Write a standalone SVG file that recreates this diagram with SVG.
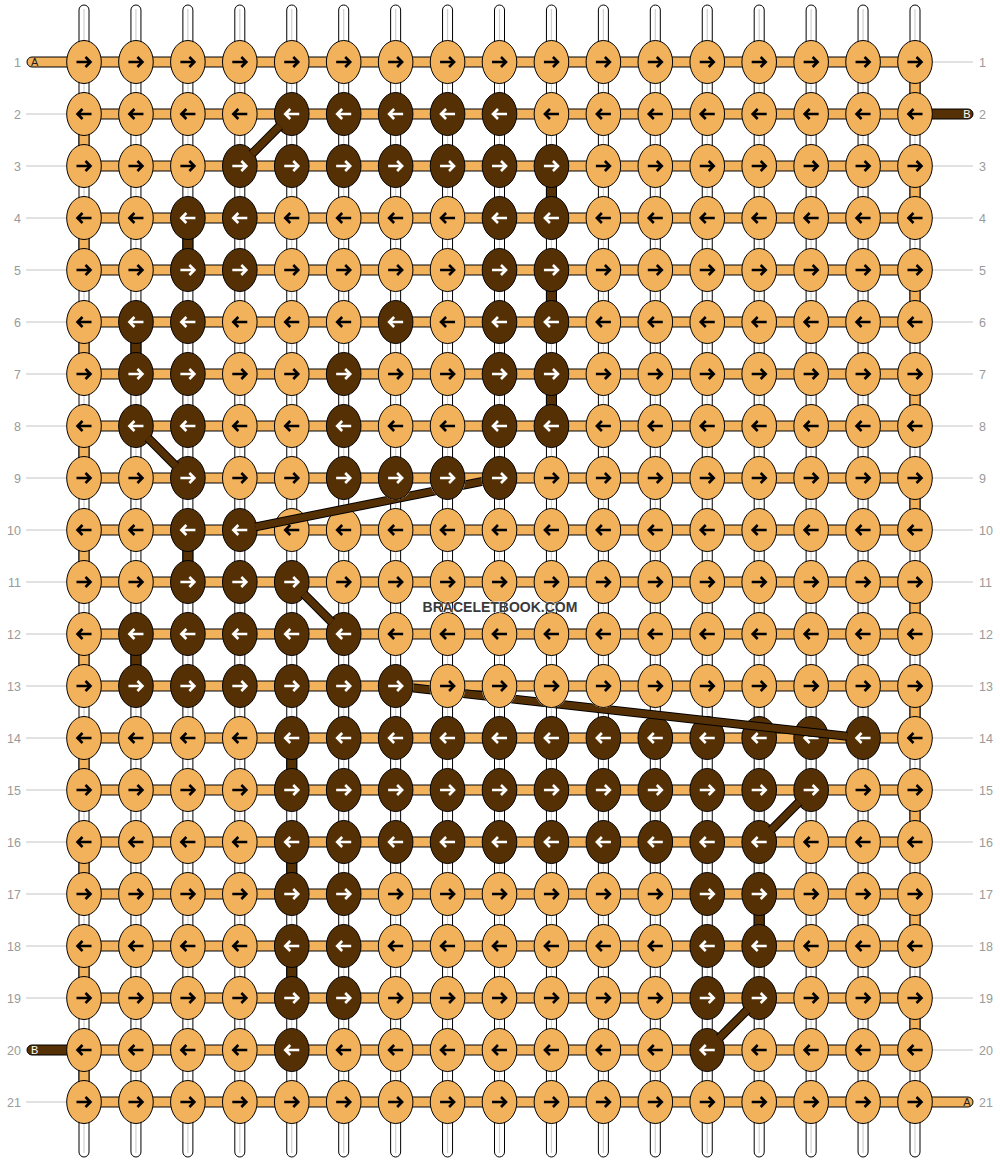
<svg xmlns="http://www.w3.org/2000/svg" xmlns:xlink="http://www.w3.org/1999/xlink" width="1000" height="1164" viewBox="0 0 1000 1164">
<style>
.w{fill:#fff;stroke:#000;stroke-width:1}
.c{stroke:#d0d0d0;stroke-width:1.2}
.h{fill:#F2B15B;stroke:#000;stroke-width:1}
.bv{fill:#563005;stroke:#000;stroke-width:1}
.gl{stroke:#c4c4c4;stroke-width:1}
.lb{font-family:"Liberation Sans",Arial,sans-serif;font-size:12.5px;fill:#9a9a9a}
.st{font-family:"Liberation Sans",Arial,sans-serif;font-size:11px}
.cb{stroke:#000;stroke-width:9;fill:none}
.cf{stroke:#563005;stroke-width:7;fill:none}
.wm{font-family:"Liberation Sans",Arial,sans-serif;font-size:14px;font-weight:bold;fill:#3a3a3a;stroke:#fff;stroke-width:1.5;stroke-opacity:0.6;paint-order:stroke}
</style>
<defs>
<path id="ar" d="M-7.5,0H6.5M1.5,-5L6.5,0L1.5,5" fill="none" stroke-width="2.6"/>
<path id="al" d="M7.5,0H-6.5M-1.5,-5L-6.5,0L-1.5,5" fill="none" stroke-width="2.6"/>
<g id="or"><ellipse rx="17.3" ry="21.5" fill="#F2B15B" stroke="#000"/><use href="#ar" stroke="#000"/></g>
<g id="ol"><ellipse rx="17.3" ry="21.5" fill="#F2B15B" stroke="#000"/><use href="#al" stroke="#000"/></g>
<g id="dr"><ellipse rx="17.3" ry="21.5" fill="#563005" stroke="#000"/><use href="#ar" stroke="#fff"/></g>
<g id="dl"><ellipse rx="17.3" ry="21.5" fill="#563005" stroke="#000"/><use href="#al" stroke="#fff"/></g>
<mask id="m9" maskUnits="userSpaceOnUse" x="0" y="0" width="1000" height="1164"><rect width="1000" height="1164" fill="#fff"/><ellipse cx="343.69" cy="478" rx="18" ry="22" fill="#000"/><ellipse cx="395.63" cy="478" rx="18" ry="22" fill="#000"/><ellipse cx="447.56" cy="478" rx="18" ry="22" fill="#000"/><ellipse cx="499.5" cy="478" rx="18" ry="22" fill="#000"/></mask>
<mask id="m13" maskUnits="userSpaceOnUse" x="0" y="0" width="1000" height="1164"><rect width="1000" height="1164" fill="#fff"/><ellipse cx="395.63" cy="686" rx="18" ry="22" fill="#000"/><ellipse cx="447.56" cy="686" rx="18" ry="22" fill="#000"/><ellipse cx="499.5" cy="686" rx="18" ry="22" fill="#000"/><ellipse cx="551.44" cy="686" rx="18" ry="22" fill="#000"/><ellipse cx="603.38" cy="686" rx="18" ry="22" fill="#000"/></mask>
</defs>
<rect width="1000" height="1164" fill="#fff"/>
<g id="labels">
<g class="gl">
<line x1="26" y1="114" x2="66" y2="114"/><line x1="26" y1="166" x2="66" y2="166"/><line x1="26" y1="218" x2="66" y2="218"/><line x1="26" y1="270" x2="66" y2="270"/><line x1="26" y1="322" x2="66" y2="322"/><line x1="26" y1="374" x2="66" y2="374"/><line x1="26" y1="426" x2="66" y2="426"/><line x1="26" y1="478" x2="66" y2="478"/><line x1="26" y1="530" x2="66" y2="530"/><line x1="26" y1="582" x2="66" y2="582"/><line x1="26" y1="634" x2="66" y2="634"/><line x1="26" y1="686" x2="66" y2="686"/><line x1="26" y1="738" x2="66" y2="738"/><line x1="26" y1="790" x2="66" y2="790"/><line x1="26" y1="842" x2="66" y2="842"/><line x1="26" y1="894" x2="66" y2="894"/><line x1="26" y1="946" x2="66" y2="946"/><line x1="26" y1="998" x2="66" y2="998"/><line x1="26" y1="1102" x2="66" y2="1102"/>
<line x1="933" y1="62" x2="973" y2="62"/><line x1="933" y1="166" x2="973" y2="166"/><line x1="933" y1="218" x2="973" y2="218"/><line x1="933" y1="270" x2="973" y2="270"/><line x1="933" y1="322" x2="973" y2="322"/><line x1="933" y1="374" x2="973" y2="374"/><line x1="933" y1="426" x2="973" y2="426"/><line x1="933" y1="478" x2="973" y2="478"/><line x1="933" y1="530" x2="973" y2="530"/><line x1="933" y1="582" x2="973" y2="582"/><line x1="933" y1="634" x2="973" y2="634"/><line x1="933" y1="686" x2="973" y2="686"/><line x1="933" y1="738" x2="973" y2="738"/><line x1="933" y1="790" x2="973" y2="790"/><line x1="933" y1="842" x2="973" y2="842"/><line x1="933" y1="894" x2="973" y2="894"/><line x1="933" y1="946" x2="973" y2="946"/><line x1="933" y1="998" x2="973" y2="998"/><line x1="933" y1="1050" x2="973" y2="1050"/>
</g>
<g class="lb" text-anchor="end">
<text x="21" y="66.5">1</text><text x="21" y="118.5">2</text><text x="21" y="170.5">3</text><text x="21" y="222.5">4</text><text x="21" y="274.5">5</text><text x="21" y="326.5">6</text><text x="21" y="378.5">7</text><text x="21" y="430.5">8</text><text x="21" y="482.5">9</text><text x="21" y="534.5">10</text><text x="21" y="586.5">11</text><text x="21" y="638.5">12</text><text x="21" y="690.5">13</text><text x="21" y="742.5">14</text><text x="21" y="794.5">15</text><text x="21" y="846.5">16</text><text x="21" y="898.5">17</text><text x="21" y="950.5">18</text><text x="21" y="1002.5">19</text><text x="21" y="1054.5">20</text><text x="21" y="1106.5">21</text>
</g>
<g class="lb">
<text x="979" y="66.5">1</text><text x="979" y="118.5">2</text><text x="979" y="170.5">3</text><text x="979" y="222.5">4</text><text x="979" y="274.5">5</text><text x="979" y="326.5">6</text><text x="979" y="378.5">7</text><text x="979" y="430.5">8</text><text x="979" y="482.5">9</text><text x="979" y="534.5">10</text><text x="979" y="586.5">11</text><text x="979" y="638.5">12</text><text x="979" y="690.5">13</text><text x="979" y="742.5">14</text><text x="979" y="794.5">15</text><text x="979" y="846.5">16</text><text x="979" y="898.5">17</text><text x="979" y="950.5">18</text><text x="979" y="1002.5">19</text><text x="979" y="1054.5">20</text><text x="979" y="1106.5">21</text>
</g>
</g>
<g id="strings">
<g id="warp">
<rect class="w" x="79" y="5" width="10" height="1152" rx="5"/><rect class="w" x="130.94" y="5" width="10" height="1152" rx="5"/><rect class="w" x="182.88" y="5" width="10" height="1152" rx="5"/><rect class="w" x="234.81" y="5" width="10" height="1152" rx="5"/><rect class="w" x="286.75" y="5" width="10" height="1152" rx="5"/><rect class="w" x="338.69" y="5" width="10" height="1152" rx="5"/><rect class="w" x="390.63" y="5" width="10" height="1152" rx="5"/><rect class="w" x="442.56" y="5" width="10" height="1152" rx="5"/><rect class="w" x="494.5" y="5" width="10" height="1152" rx="5"/><rect class="w" x="546.44" y="5" width="10" height="1152" rx="5"/><rect class="w" x="598.38" y="5" width="10" height="1152" rx="5"/><rect class="w" x="650.31" y="5" width="10" height="1152" rx="5"/><rect class="w" x="702.25" y="5" width="10" height="1152" rx="5"/><rect class="w" x="754.19" y="5" width="10" height="1152" rx="5"/><rect class="w" x="806.13" y="5" width="10" height="1152" rx="5"/><rect class="w" x="858.06" y="5" width="10" height="1152" rx="5"/><rect class="w" x="910" y="5" width="10" height="1152" rx="5"/>
<g class="c"><line x1="84" y1="9" x2="84" y2="1153"/><line x1="135.94" y1="9" x2="135.94" y2="1153"/><line x1="187.88" y1="9" x2="187.88" y2="1153"/><line x1="239.81" y1="9" x2="239.81" y2="1153"/><line x1="291.75" y1="9" x2="291.75" y2="1153"/><line x1="343.69" y1="9" x2="343.69" y2="1153"/><line x1="395.63" y1="9" x2="395.63" y2="1153"/><line x1="447.56" y1="9" x2="447.56" y2="1153"/><line x1="499.5" y1="9" x2="499.5" y2="1153"/><line x1="551.44" y1="9" x2="551.44" y2="1153"/><line x1="603.38" y1="9" x2="603.38" y2="1153"/><line x1="655.31" y1="9" x2="655.31" y2="1153"/><line x1="707.25" y1="9" x2="707.25" y2="1153"/><line x1="759.19" y1="9" x2="759.19" y2="1153"/><line x1="811.13" y1="9" x2="811.13" y2="1153"/><line x1="863.06" y1="9" x2="863.06" y2="1153"/><line x1="915" y1="9" x2="915" y2="1153"/></g>
</g>
<g id="weft">
<rect class="h" x="84" y="57" width="831" height="10"/><rect class="h" x="84" y="109" width="831" height="10"/><rect class="h" x="84" y="161" width="831" height="10"/><rect class="h" x="84" y="213" width="831" height="10"/><rect class="h" x="84" y="265" width="831" height="10"/><rect class="h" x="84" y="317" width="831" height="10"/><rect class="h" x="84" y="369" width="831" height="10"/><rect class="h" x="84" y="421" width="831" height="10"/><rect class="h" x="84" y="473" width="831" height="10"/><rect class="h" x="84" y="525" width="831" height="10"/><rect class="h" x="84" y="577" width="831" height="10"/><rect class="h" x="84" y="629" width="831" height="10"/><rect class="h" x="84" y="681" width="831" height="10"/><rect class="h" x="84" y="733" width="831" height="10"/><rect class="h" x="84" y="785" width="831" height="10"/><rect class="h" x="84" y="837" width="831" height="10"/><rect class="h" x="84" y="889" width="831" height="10"/><rect class="h" x="84" y="941" width="831" height="10"/><rect class="h" x="84" y="993" width="831" height="10"/><rect class="h" x="84" y="1045" width="831" height="10"/><rect class="h" x="84" y="1097" width="831" height="10"/>
<rect class="h" x="910" y="77" width="10" height="22"/><rect class="h" x="910" y="181" width="10" height="22"/><rect class="h" x="910" y="285" width="10" height="22"/><rect class="h" x="910" y="389" width="10" height="22"/><rect class="h" x="910" y="493" width="10" height="22"/><rect class="h" x="910" y="597" width="10" height="22"/><rect class="h" x="910" y="701" width="10" height="22"/><rect class="h" x="910" y="805" width="10" height="22"/><rect class="h" x="910" y="909" width="10" height="22"/><rect class="h" x="910" y="1013" width="10" height="22"/>
<rect class="h" x="79" y="129" width="10" height="22"/><rect class="h" x="79" y="233" width="10" height="22"/><rect class="h" x="79" y="337" width="10" height="22"/><rect class="h" x="79" y="441" width="10" height="22"/><rect class="h" x="79" y="545" width="10" height="22"/><rect class="h" x="79" y="649" width="10" height="22"/><rect class="h" x="79" y="753" width="10" height="22"/><rect class="h" x="79" y="857" width="10" height="22"/><rect class="h" x="79" y="961" width="10" height="22"/><rect class="h" x="79" y="1065" width="10" height="22"/>
</g>
<g id="ends">
<path class="h" d="M75,57H32a5,5 0 0 0 0,10H75Z"/><text class="st" x="31" y="65.5" fill="#222">A</text>
<path class="bv" d="M75,1045H32a5,5 0 0 0 0,10H75Z"/><text class="st" x="31" y="1053.5" fill="#fff">B</text>
<path class="bv" d="M925,109H968a5,5 0 0 1 0,10H925Z"/><text class="st" x="970.5" y="117.5" fill="#fff" text-anchor="end">B</text>
<path class="h" d="M925,1097H968a5,5 0 0 1 0,10H925Z"/><text class="st" x="970.5" y="1105.5" fill="#222" text-anchor="end">A</text>
</g>
<g id="b-vertical">
<rect class="bv" x="546.44" y="181" width="10" height="22"/><rect class="bv" x="182.88" y="233" width="10" height="22"/><rect class="bv" x="546.44" y="285" width="10" height="22"/><rect class="bv" x="130.94" y="337" width="10" height="22"/><rect class="bv" x="546.44" y="389" width="10" height="22"/><rect class="bv" x="182.88" y="545" width="10" height="22"/><rect class="bv" x="130.94" y="649" width="10" height="22"/><rect class="bv" x="286.75" y="753" width="10" height="22"/><rect class="bv" x="286.75" y="857" width="10" height="22"/><rect class="bv" x="754.19" y="909" width="10" height="22"/><rect class="bv" x="286.75" y="961" width="10" height="22"/>
</g>
</g>
<g id="knots">
<g id="k1-1"><use href="#or" x="84" y="62"/></g><g id="k1-2"><use href="#or" x="135.94" y="62"/></g><g id="k1-3"><use href="#or" x="187.88" y="62"/></g><g id="k1-4"><use href="#or" x="239.81" y="62"/></g><g id="k1-5"><use href="#or" x="291.75" y="62"/></g><g id="k1-6"><use href="#or" x="343.69" y="62"/></g><g id="k1-7"><use href="#or" x="395.63" y="62"/></g><g id="k1-8"><use href="#or" x="447.56" y="62"/></g><g id="k1-9"><use href="#or" x="499.5" y="62"/></g><g id="k1-10"><use href="#or" x="551.44" y="62"/></g><g id="k1-11"><use href="#or" x="603.38" y="62"/></g><g id="k1-12"><use href="#or" x="655.31" y="62"/></g><g id="k1-13"><use href="#or" x="707.25" y="62"/></g><g id="k1-14"><use href="#or" x="759.19" y="62"/></g><g id="k1-15"><use href="#or" x="811.13" y="62"/></g><g id="k1-16"><use href="#or" x="863.06" y="62"/></g><g id="k1-17"><use href="#or" x="915" y="62"/></g>
<g id="k2-1"><use href="#ol" x="84" y="114"/></g><g id="k2-2"><use href="#ol" x="135.94" y="114"/></g><g id="k2-3"><use href="#ol" x="187.88" y="114"/></g><g id="k2-4"><use href="#ol" x="239.81" y="114"/></g><g id="k2-5"><use href="#dl" x="291.75" y="114"/></g><g id="k2-6"><use href="#dl" x="343.69" y="114"/></g><g id="k2-7"><use href="#dl" x="395.63" y="114"/></g><g id="k2-8"><use href="#dl" x="447.56" y="114"/></g><g id="k2-9"><use href="#dl" x="499.5" y="114"/></g><g id="k2-10"><use href="#ol" x="551.44" y="114"/></g><g id="k2-11"><use href="#ol" x="603.38" y="114"/></g><g id="k2-12"><use href="#ol" x="655.31" y="114"/></g><g id="k2-13"><use href="#ol" x="707.25" y="114"/></g><g id="k2-14"><use href="#ol" x="759.19" y="114"/></g><g id="k2-15"><use href="#ol" x="811.13" y="114"/></g><g id="k2-16"><use href="#ol" x="863.06" y="114"/></g><g id="k2-17"><use href="#ol" x="915" y="114"/></g>
<g id="k3-1"><use href="#or" x="84" y="166"/></g><g id="k3-2"><use href="#or" x="135.94" y="166"/></g><g id="k3-3"><use href="#or" x="187.88" y="166"/></g><g id="k3-4"><use href="#dr" x="239.81" y="166"/></g><g id="k3-5"><use href="#dr" x="291.75" y="166"/></g><g id="k3-6"><use href="#dr" x="343.69" y="166"/></g><g id="k3-7"><use href="#dr" x="395.63" y="166"/></g><g id="k3-8"><use href="#dr" x="447.56" y="166"/></g><g id="k3-9"><use href="#dr" x="499.5" y="166"/></g><g id="k3-10"><use href="#dr" x="551.44" y="166"/></g><g id="k3-11"><use href="#or" x="603.38" y="166"/></g><g id="k3-12"><use href="#or" x="655.31" y="166"/></g><g id="k3-13"><use href="#or" x="707.25" y="166"/></g><g id="k3-14"><use href="#or" x="759.19" y="166"/></g><g id="k3-15"><use href="#or" x="811.13" y="166"/></g><g id="k3-16"><use href="#or" x="863.06" y="166"/></g><g id="k3-17"><use href="#or" x="915" y="166"/></g>
<g id="k4-1"><use href="#ol" x="84" y="218"/></g><g id="k4-2"><use href="#ol" x="135.94" y="218"/></g><g id="k4-3"><use href="#dl" x="187.88" y="218"/></g><g id="k4-4"><use href="#dl" x="239.81" y="218"/></g><g id="k4-5"><use href="#ol" x="291.75" y="218"/></g><g id="k4-6"><use href="#ol" x="343.69" y="218"/></g><g id="k4-7"><use href="#ol" x="395.63" y="218"/></g><g id="k4-8"><use href="#ol" x="447.56" y="218"/></g><g id="k4-9"><use href="#dl" x="499.5" y="218"/></g><g id="k4-10"><use href="#dl" x="551.44" y="218"/></g><g id="k4-11"><use href="#ol" x="603.38" y="218"/></g><g id="k4-12"><use href="#ol" x="655.31" y="218"/></g><g id="k4-13"><use href="#ol" x="707.25" y="218"/></g><g id="k4-14"><use href="#ol" x="759.19" y="218"/></g><g id="k4-15"><use href="#ol" x="811.13" y="218"/></g><g id="k4-16"><use href="#ol" x="863.06" y="218"/></g><g id="k4-17"><use href="#ol" x="915" y="218"/></g>
<g id="k5-1"><use href="#or" x="84" y="270"/></g><g id="k5-2"><use href="#or" x="135.94" y="270"/></g><g id="k5-3"><use href="#dr" x="187.88" y="270"/></g><g id="k5-4"><use href="#dr" x="239.81" y="270"/></g><g id="k5-5"><use href="#or" x="291.75" y="270"/></g><g id="k5-6"><use href="#or" x="343.69" y="270"/></g><g id="k5-7"><use href="#or" x="395.63" y="270"/></g><g id="k5-8"><use href="#or" x="447.56" y="270"/></g><g id="k5-9"><use href="#dr" x="499.5" y="270"/></g><g id="k5-10"><use href="#dr" x="551.44" y="270"/></g><g id="k5-11"><use href="#or" x="603.38" y="270"/></g><g id="k5-12"><use href="#or" x="655.31" y="270"/></g><g id="k5-13"><use href="#or" x="707.25" y="270"/></g><g id="k5-14"><use href="#or" x="759.19" y="270"/></g><g id="k5-15"><use href="#or" x="811.13" y="270"/></g><g id="k5-16"><use href="#or" x="863.06" y="270"/></g><g id="k5-17"><use href="#or" x="915" y="270"/></g>
<g id="k6-1"><use href="#ol" x="84" y="322"/></g><g id="k6-2"><use href="#dl" x="135.94" y="322"/></g><g id="k6-3"><use href="#dl" x="187.88" y="322"/></g><g id="k6-4"><use href="#ol" x="239.81" y="322"/></g><g id="k6-5"><use href="#ol" x="291.75" y="322"/></g><g id="k6-6"><use href="#ol" x="343.69" y="322"/></g><g id="k6-7"><use href="#dl" x="395.63" y="322"/></g><g id="k6-8"><use href="#ol" x="447.56" y="322"/></g><g id="k6-9"><use href="#dl" x="499.5" y="322"/></g><g id="k6-10"><use href="#dl" x="551.44" y="322"/></g><g id="k6-11"><use href="#ol" x="603.38" y="322"/></g><g id="k6-12"><use href="#ol" x="655.31" y="322"/></g><g id="k6-13"><use href="#ol" x="707.25" y="322"/></g><g id="k6-14"><use href="#ol" x="759.19" y="322"/></g><g id="k6-15"><use href="#ol" x="811.13" y="322"/></g><g id="k6-16"><use href="#ol" x="863.06" y="322"/></g><g id="k6-17"><use href="#ol" x="915" y="322"/></g>
<g id="k7-1"><use href="#or" x="84" y="374"/></g><g id="k7-2"><use href="#dr" x="135.94" y="374"/></g><g id="k7-3"><use href="#dr" x="187.88" y="374"/></g><g id="k7-4"><use href="#or" x="239.81" y="374"/></g><g id="k7-5"><use href="#or" x="291.75" y="374"/></g><g id="k7-6"><use href="#dr" x="343.69" y="374"/></g><g id="k7-7"><use href="#or" x="395.63" y="374"/></g><g id="k7-8"><use href="#or" x="447.56" y="374"/></g><g id="k7-9"><use href="#dr" x="499.5" y="374"/></g><g id="k7-10"><use href="#dr" x="551.44" y="374"/></g><g id="k7-11"><use href="#or" x="603.38" y="374"/></g><g id="k7-12"><use href="#or" x="655.31" y="374"/></g><g id="k7-13"><use href="#or" x="707.25" y="374"/></g><g id="k7-14"><use href="#or" x="759.19" y="374"/></g><g id="k7-15"><use href="#or" x="811.13" y="374"/></g><g id="k7-16"><use href="#or" x="863.06" y="374"/></g><g id="k7-17"><use href="#or" x="915" y="374"/></g>
<g id="k8-1"><use href="#ol" x="84" y="426"/></g><g id="k8-2"><use href="#dl" x="135.94" y="426"/></g><g id="k8-3"><use href="#dl" x="187.88" y="426"/></g><g id="k8-4"><use href="#ol" x="239.81" y="426"/></g><g id="k8-5"><use href="#ol" x="291.75" y="426"/></g><g id="k8-6"><use href="#dl" x="343.69" y="426"/></g><g id="k8-7"><use href="#ol" x="395.63" y="426"/></g><g id="k8-8"><use href="#ol" x="447.56" y="426"/></g><g id="k8-9"><use href="#dl" x="499.5" y="426"/></g><g id="k8-10"><use href="#dl" x="551.44" y="426"/></g><g id="k8-11"><use href="#ol" x="603.38" y="426"/></g><g id="k8-12"><use href="#ol" x="655.31" y="426"/></g><g id="k8-13"><use href="#ol" x="707.25" y="426"/></g><g id="k8-14"><use href="#ol" x="759.19" y="426"/></g><g id="k8-15"><use href="#ol" x="811.13" y="426"/></g><g id="k8-16"><use href="#ol" x="863.06" y="426"/></g><g id="k8-17"><use href="#ol" x="915" y="426"/></g>
<g id="k9-1"><use href="#or" x="84" y="478"/></g><g id="k9-2"><use href="#or" x="135.94" y="478"/></g><g id="k9-3"><use href="#dr" x="187.88" y="478"/></g><g id="k9-4"><use href="#or" x="239.81" y="478"/></g><g id="k9-5"><use href="#or" x="291.75" y="478"/></g><g id="k9-6"><use href="#dr" x="343.69" y="478"/></g><g id="k9-7"><use href="#dr" x="395.63" y="478"/></g><g id="k9-8"><use href="#dr" x="447.56" y="478"/></g><g id="k9-9"><use href="#dr" x="499.5" y="478"/></g><g id="k9-10"><use href="#or" x="551.44" y="478"/></g><g id="k9-11"><use href="#or" x="603.38" y="478"/></g><g id="k9-12"><use href="#or" x="655.31" y="478"/></g><g id="k9-13"><use href="#or" x="707.25" y="478"/></g><g id="k9-14"><use href="#or" x="759.19" y="478"/></g><g id="k9-15"><use href="#or" x="811.13" y="478"/></g><g id="k9-16"><use href="#or" x="863.06" y="478"/></g><g id="k9-17"><use href="#or" x="915" y="478"/></g>
<g id="k10-1"><use href="#ol" x="84" y="530"/></g><g id="k10-2"><use href="#ol" x="135.94" y="530"/></g><g id="k10-3"><use href="#dl" x="187.88" y="530"/></g><g id="k10-4"><use href="#dl" x="239.81" y="530"/></g><g id="k10-5"><use href="#ol" x="291.75" y="530"/></g><g id="k10-6"><use href="#ol" x="343.69" y="530"/></g><g id="k10-7"><use href="#ol" x="395.63" y="530"/></g><g id="k10-8"><use href="#ol" x="447.56" y="530"/></g><g id="k10-9"><use href="#ol" x="499.5" y="530"/></g><g id="k10-10"><use href="#ol" x="551.44" y="530"/></g><g id="k10-11"><use href="#ol" x="603.38" y="530"/></g><g id="k10-12"><use href="#ol" x="655.31" y="530"/></g><g id="k10-13"><use href="#ol" x="707.25" y="530"/></g><g id="k10-14"><use href="#ol" x="759.19" y="530"/></g><g id="k10-15"><use href="#ol" x="811.13" y="530"/></g><g id="k10-16"><use href="#ol" x="863.06" y="530"/></g><g id="k10-17"><use href="#ol" x="915" y="530"/></g>
<g id="k11-1"><use href="#or" x="84" y="582"/></g><g id="k11-2"><use href="#or" x="135.94" y="582"/></g><g id="k11-3"><use href="#dr" x="187.88" y="582"/></g><g id="k11-4"><use href="#dr" x="239.81" y="582"/></g><g id="k11-5"><use href="#dr" x="291.75" y="582"/></g><g id="k11-6"><use href="#or" x="343.69" y="582"/></g><g id="k11-7"><use href="#or" x="395.63" y="582"/></g><g id="k11-8"><use href="#or" x="447.56" y="582"/></g><g id="k11-9"><use href="#or" x="499.5" y="582"/></g><g id="k11-10"><use href="#or" x="551.44" y="582"/></g><g id="k11-11"><use href="#or" x="603.38" y="582"/></g><g id="k11-12"><use href="#or" x="655.31" y="582"/></g><g id="k11-13"><use href="#or" x="707.25" y="582"/></g><g id="k11-14"><use href="#or" x="759.19" y="582"/></g><g id="k11-15"><use href="#or" x="811.13" y="582"/></g><g id="k11-16"><use href="#or" x="863.06" y="582"/></g><g id="k11-17"><use href="#or" x="915" y="582"/></g>
<g id="k12-1"><use href="#ol" x="84" y="634"/></g><g id="k12-2"><use href="#dl" x="135.94" y="634"/></g><g id="k12-3"><use href="#dl" x="187.88" y="634"/></g><g id="k12-4"><use href="#dl" x="239.81" y="634"/></g><g id="k12-5"><use href="#dl" x="291.75" y="634"/></g><g id="k12-6"><use href="#dl" x="343.69" y="634"/></g><g id="k12-7"><use href="#ol" x="395.63" y="634"/></g><g id="k12-8"><use href="#ol" x="447.56" y="634"/></g><g id="k12-9"><use href="#ol" x="499.5" y="634"/></g><g id="k12-10"><use href="#ol" x="551.44" y="634"/></g><g id="k12-11"><use href="#ol" x="603.38" y="634"/></g><g id="k12-12"><use href="#ol" x="655.31" y="634"/></g><g id="k12-13"><use href="#ol" x="707.25" y="634"/></g><g id="k12-14"><use href="#ol" x="759.19" y="634"/></g><g id="k12-15"><use href="#ol" x="811.13" y="634"/></g><g id="k12-16"><use href="#ol" x="863.06" y="634"/></g><g id="k12-17"><use href="#ol" x="915" y="634"/></g>
<g id="k13-1"><use href="#or" x="84" y="686"/></g><g id="k13-2"><use href="#dr" x="135.94" y="686"/></g><g id="k13-3"><use href="#dr" x="187.88" y="686"/></g><g id="k13-4"><use href="#dr" x="239.81" y="686"/></g><g id="k13-5"><use href="#dr" x="291.75" y="686"/></g><g id="k13-6"><use href="#dr" x="343.69" y="686"/></g><g id="k13-7"><use href="#dr" x="395.63" y="686"/></g><g id="k13-8"><use href="#or" x="447.56" y="686"/></g><g id="k13-9"><use href="#or" x="499.5" y="686"/></g><g id="k13-10"><use href="#or" x="551.44" y="686"/></g><g id="k13-11"><use href="#or" x="603.38" y="686"/></g><g id="k13-12"><use href="#or" x="655.31" y="686"/></g><g id="k13-13"><use href="#or" x="707.25" y="686"/></g><g id="k13-14"><use href="#or" x="759.19" y="686"/></g><g id="k13-15"><use href="#or" x="811.13" y="686"/></g><g id="k13-16"><use href="#or" x="863.06" y="686"/></g><g id="k13-17"><use href="#or" x="915" y="686"/></g>
<g id="k14-1"><use href="#ol" x="84" y="738"/></g><g id="k14-2"><use href="#ol" x="135.94" y="738"/></g><g id="k14-3"><use href="#ol" x="187.88" y="738"/></g><g id="k14-4"><use href="#ol" x="239.81" y="738"/></g><g id="k14-5"><use href="#dl" x="291.75" y="738"/></g><g id="k14-6"><use href="#dl" x="343.69" y="738"/></g><g id="k14-7"><use href="#dl" x="395.63" y="738"/></g><g id="k14-8"><use href="#dl" x="447.56" y="738"/></g><g id="k14-9"><use href="#dl" x="499.5" y="738"/></g><g id="k14-10"><use href="#dl" x="551.44" y="738"/></g><g id="k14-11"><use href="#dl" x="603.38" y="738"/></g><g id="k14-12"><use href="#dl" x="655.31" y="738"/></g><g id="k14-13"><use href="#dl" x="707.25" y="738"/></g><g id="k14-14"><use href="#dl" x="759.19" y="738"/></g><g id="k14-15"><use href="#dl" x="811.13" y="738"/></g><g id="k14-16"><use href="#dl" x="863.06" y="738"/></g><g id="k14-17"><use href="#ol" x="915" y="738"/></g>
<g id="k15-1"><use href="#or" x="84" y="790"/></g><g id="k15-2"><use href="#or" x="135.94" y="790"/></g><g id="k15-3"><use href="#or" x="187.88" y="790"/></g><g id="k15-4"><use href="#or" x="239.81" y="790"/></g><g id="k15-5"><use href="#dr" x="291.75" y="790"/></g><g id="k15-6"><use href="#dr" x="343.69" y="790"/></g><g id="k15-7"><use href="#dr" x="395.63" y="790"/></g><g id="k15-8"><use href="#dr" x="447.56" y="790"/></g><g id="k15-9"><use href="#dr" x="499.5" y="790"/></g><g id="k15-10"><use href="#dr" x="551.44" y="790"/></g><g id="k15-11"><use href="#dr" x="603.38" y="790"/></g><g id="k15-12"><use href="#dr" x="655.31" y="790"/></g><g id="k15-13"><use href="#dr" x="707.25" y="790"/></g><g id="k15-14"><use href="#dr" x="759.19" y="790"/></g><g id="k15-15"><use href="#dr" x="811.13" y="790"/></g><g id="k15-16"><use href="#or" x="863.06" y="790"/></g><g id="k15-17"><use href="#or" x="915" y="790"/></g>
<g id="k16-1"><use href="#ol" x="84" y="842"/></g><g id="k16-2"><use href="#ol" x="135.94" y="842"/></g><g id="k16-3"><use href="#ol" x="187.88" y="842"/></g><g id="k16-4"><use href="#ol" x="239.81" y="842"/></g><g id="k16-5"><use href="#dl" x="291.75" y="842"/></g><g id="k16-6"><use href="#dl" x="343.69" y="842"/></g><g id="k16-7"><use href="#dl" x="395.63" y="842"/></g><g id="k16-8"><use href="#dl" x="447.56" y="842"/></g><g id="k16-9"><use href="#dl" x="499.5" y="842"/></g><g id="k16-10"><use href="#dl" x="551.44" y="842"/></g><g id="k16-11"><use href="#dl" x="603.38" y="842"/></g><g id="k16-12"><use href="#dl" x="655.31" y="842"/></g><g id="k16-13"><use href="#dl" x="707.25" y="842"/></g><g id="k16-14"><use href="#dl" x="759.19" y="842"/></g><g id="k16-15"><use href="#ol" x="811.13" y="842"/></g><g id="k16-16"><use href="#ol" x="863.06" y="842"/></g><g id="k16-17"><use href="#ol" x="915" y="842"/></g>
<g id="k17-1"><use href="#or" x="84" y="894"/></g><g id="k17-2"><use href="#or" x="135.94" y="894"/></g><g id="k17-3"><use href="#or" x="187.88" y="894"/></g><g id="k17-4"><use href="#or" x="239.81" y="894"/></g><g id="k17-5"><use href="#dr" x="291.75" y="894"/></g><g id="k17-6"><use href="#dr" x="343.69" y="894"/></g><g id="k17-7"><use href="#or" x="395.63" y="894"/></g><g id="k17-8"><use href="#or" x="447.56" y="894"/></g><g id="k17-9"><use href="#or" x="499.5" y="894"/></g><g id="k17-10"><use href="#or" x="551.44" y="894"/></g><g id="k17-11"><use href="#or" x="603.38" y="894"/></g><g id="k17-12"><use href="#or" x="655.31" y="894"/></g><g id="k17-13"><use href="#dr" x="707.25" y="894"/></g><g id="k17-14"><use href="#dr" x="759.19" y="894"/></g><g id="k17-15"><use href="#or" x="811.13" y="894"/></g><g id="k17-16"><use href="#or" x="863.06" y="894"/></g><g id="k17-17"><use href="#or" x="915" y="894"/></g>
<g id="k18-1"><use href="#ol" x="84" y="946"/></g><g id="k18-2"><use href="#ol" x="135.94" y="946"/></g><g id="k18-3"><use href="#ol" x="187.88" y="946"/></g><g id="k18-4"><use href="#ol" x="239.81" y="946"/></g><g id="k18-5"><use href="#dl" x="291.75" y="946"/></g><g id="k18-6"><use href="#dl" x="343.69" y="946"/></g><g id="k18-7"><use href="#ol" x="395.63" y="946"/></g><g id="k18-8"><use href="#ol" x="447.56" y="946"/></g><g id="k18-9"><use href="#ol" x="499.5" y="946"/></g><g id="k18-10"><use href="#ol" x="551.44" y="946"/></g><g id="k18-11"><use href="#ol" x="603.38" y="946"/></g><g id="k18-12"><use href="#ol" x="655.31" y="946"/></g><g id="k18-13"><use href="#dl" x="707.25" y="946"/></g><g id="k18-14"><use href="#dl" x="759.19" y="946"/></g><g id="k18-15"><use href="#ol" x="811.13" y="946"/></g><g id="k18-16"><use href="#ol" x="863.06" y="946"/></g><g id="k18-17"><use href="#ol" x="915" y="946"/></g>
<g id="k19-1"><use href="#or" x="84" y="998"/></g><g id="k19-2"><use href="#or" x="135.94" y="998"/></g><g id="k19-3"><use href="#or" x="187.88" y="998"/></g><g id="k19-4"><use href="#or" x="239.81" y="998"/></g><g id="k19-5"><use href="#dr" x="291.75" y="998"/></g><g id="k19-6"><use href="#dr" x="343.69" y="998"/></g><g id="k19-7"><use href="#or" x="395.63" y="998"/></g><g id="k19-8"><use href="#or" x="447.56" y="998"/></g><g id="k19-9"><use href="#or" x="499.5" y="998"/></g><g id="k19-10"><use href="#or" x="551.44" y="998"/></g><g id="k19-11"><use href="#or" x="603.38" y="998"/></g><g id="k19-12"><use href="#or" x="655.31" y="998"/></g><g id="k19-13"><use href="#dr" x="707.25" y="998"/></g><g id="k19-14"><use href="#dr" x="759.19" y="998"/></g><g id="k19-15"><use href="#or" x="811.13" y="998"/></g><g id="k19-16"><use href="#or" x="863.06" y="998"/></g><g id="k19-17"><use href="#or" x="915" y="998"/></g>
<g id="k20-1"><use href="#ol" x="84" y="1050"/></g><g id="k20-2"><use href="#ol" x="135.94" y="1050"/></g><g id="k20-3"><use href="#ol" x="187.88" y="1050"/></g><g id="k20-4"><use href="#ol" x="239.81" y="1050"/></g><g id="k20-5"><use href="#dl" x="291.75" y="1050"/></g><g id="k20-6"><use href="#ol" x="343.69" y="1050"/></g><g id="k20-7"><use href="#ol" x="395.63" y="1050"/></g><g id="k20-8"><use href="#ol" x="447.56" y="1050"/></g><g id="k20-9"><use href="#ol" x="499.5" y="1050"/></g><g id="k20-10"><use href="#ol" x="551.44" y="1050"/></g><g id="k20-11"><use href="#ol" x="603.38" y="1050"/></g><g id="k20-12"><use href="#ol" x="655.31" y="1050"/></g><g id="k20-13"><use href="#dl" x="707.25" y="1050"/></g><g id="k20-14"><use href="#ol" x="759.19" y="1050"/></g><g id="k20-15"><use href="#ol" x="811.13" y="1050"/></g><g id="k20-16"><use href="#ol" x="863.06" y="1050"/></g><g id="k20-17"><use href="#ol" x="915" y="1050"/></g>
<g id="k21-1"><use href="#or" x="84" y="1102"/></g><g id="k21-2"><use href="#or" x="135.94" y="1102"/></g><g id="k21-3"><use href="#or" x="187.88" y="1102"/></g><g id="k21-4"><use href="#or" x="239.81" y="1102"/></g><g id="k21-5"><use href="#or" x="291.75" y="1102"/></g><g id="k21-6"><use href="#or" x="343.69" y="1102"/></g><g id="k21-7"><use href="#or" x="395.63" y="1102"/></g><g id="k21-8"><use href="#or" x="447.56" y="1102"/></g><g id="k21-9"><use href="#or" x="499.5" y="1102"/></g><g id="k21-10"><use href="#or" x="551.44" y="1102"/></g><g id="k21-11"><use href="#or" x="603.38" y="1102"/></g><g id="k21-12"><use href="#or" x="655.31" y="1102"/></g><g id="k21-13"><use href="#or" x="707.25" y="1102"/></g><g id="k21-14"><use href="#or" x="759.19" y="1102"/></g><g id="k21-15"><use href="#or" x="811.13" y="1102"/></g><g id="k21-16"><use href="#or" x="863.06" y="1102"/></g><g id="k21-17"><use href="#or" x="915" y="1102"/></g>
</g>
<g id="connectors">
<g><line class="cb" x1="279.75" y1="126" x2="251.81" y2="154"/><line class="cf" x1="279.75" y1="126" x2="251.81" y2="154"/></g>
<g><line class="cb" x1="147.94" y1="438" x2="175.88" y2="466"/><line class="cf" x1="147.94" y1="438" x2="175.88" y2="466"/></g>
<g mask="url(#m9)"><line class="cb" x1="483.81" y1="481.14" x2="255.5" y2="526.86"/><line class="cf" x1="483.81" y1="481.14" x2="255.5" y2="526.86"/></g>
<g><line class="cb" x1="303.75" y1="594" x2="331.69" y2="622"/><line class="cf" x1="303.75" y1="594" x2="331.69" y2="622"/></g>
<g mask="url(#m13)"><line class="cb" x1="411.53" y1="687.77" x2="847.16" y2="736.23"/><line class="cf" x1="411.53" y1="687.77" x2="847.16" y2="736.23"/></g>
<g><line class="cb" x1="799.13" y1="802" x2="771.19" y2="830"/><line class="cf" x1="799.13" y1="802" x2="771.19" y2="830"/></g>
<g><line class="cb" x1="747.19" y1="1010" x2="719.25" y2="1038"/><line class="cf" x1="747.19" y1="1010" x2="719.25" y2="1038"/></g>
</g>
<text class="wm" x="500" y="612" text-anchor="middle">BRACELETBOOK.COM</text>
</svg>
